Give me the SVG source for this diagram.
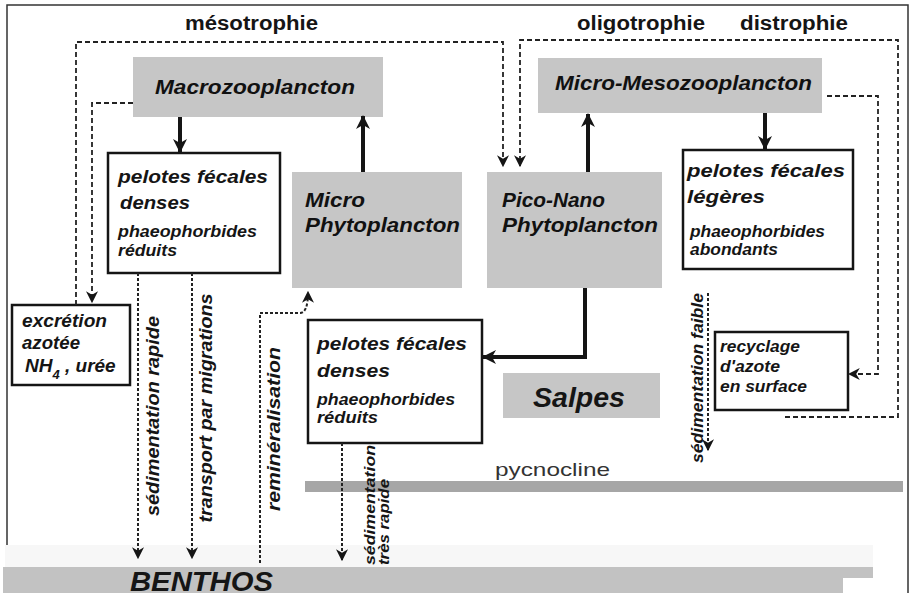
<svg xmlns="http://www.w3.org/2000/svg" width="911" height="596" viewBox="0 0 911 596">
<defs>
<style>
.frame{fill:none;stroke:#333;stroke-width:1.5}
.box{fill:#fff;stroke:#151515;stroke-width:2.5}
.gbox{fill:#c6c6c6}
.t{font-family:"Liberation Sans",Arial,sans-serif;font-weight:bold;font-style:italic;fill:#151515}
.h{font-size:20px;fill:#111}
.m{font-size:19px}
.s{font-size:16px}
.top{font-family:"Liberation Sans",Arial,sans-serif;font-weight:bold;font-size:20px;fill:#151515}
.dash{fill:none;stroke:#222;stroke-width:1.8;stroke-dasharray:5 3}
.dot{fill:none;stroke:#222;stroke-width:2;stroke-dasharray:3 2}
.solid{fill:none;stroke:#151515;stroke-width:4}
</style>
<marker id="big" viewBox="0 0 14 14" refX="13" refY="7" markerWidth="14" markerHeight="14" orient="auto" markerUnits="userSpaceOnUse">
<path d="M0,0 L14,7 L0,14 L4,7 z" fill="#151515"/>
</marker>
<marker id="sm" viewBox="0 0 10 10" refX="9" refY="5" markerWidth="12" markerHeight="12" orient="auto" markerUnits="userSpaceOnUse">
<path d="M0,0 L10,5 L0,10 L3,5 z" fill="#151515"/>
</marker>
</defs>
<rect x="0" y="0" width="911" height="596" fill="#fff"/>
<path class="frame" d="M7,593 V5 H908 V593"/>

<g id="benthos">
<rect x="5" y="545" width="868" height="22" fill="#f7f7f7"/>
<rect x="3" y="567" width="870" height="26" fill="#c2c2c2"/>
<rect x="843" y="578" width="30" height="15" fill="#fff"/>
<text class="t" x="130" y="591" font-size="28" textLength="143" lengthAdjust="spacingAndGlyphs">BENTHOS</text>
</g>

<g id="pycnocline">
<rect x="305" y="481" width="598" height="11" fill="#a6a6a6"/>
<text x="495" y="476" font-family="'Liberation Sans',Arial,sans-serif" font-size="19" fill="#333" textLength="115" lengthAdjust="spacingAndGlyphs">pycnocline</text>
</g>

<g id="labels-top">
<text class="top" x="185" y="30" textLength="133" lengthAdjust="spacingAndGlyphs">mésotrophie</text>
<text class="top" x="577" y="30" textLength="128" lengthAdjust="spacingAndGlyphs">oligotrophie</text>
<text class="top" x="740" y="30" textLength="108" lengthAdjust="spacingAndGlyphs">distrophie</text>
</g>

<g id="macrozooplancton">
<rect class="gbox" x="133" y="57" width="250" height="60"/>
<text class="t h" x="155" y="94" textLength="200" lengthAdjust="spacingAndGlyphs">Macrozooplancton</text>
</g>

<g id="micro-mesozooplancton">
<rect class="gbox" x="538" y="58" width="284" height="55"/>
<text class="t h" x="555" y="90" textLength="257" lengthAdjust="spacingAndGlyphs">Micro-Mesozooplancton</text>
</g>

<g id="micro-phytoplancton">
<rect class="gbox" x="292" y="172" width="170" height="116"/>
<text class="t h" x="305" y="207" textLength="60" lengthAdjust="spacingAndGlyphs">Micro</text>
<text class="t h" x="305" y="232" textLength="155" lengthAdjust="spacingAndGlyphs">Phytoplancton</text>
</g>

<g id="pico-nano-phytoplancton">
<rect class="gbox" x="487" y="172" width="175" height="116"/>
<text class="t h" x="502" y="207" textLength="103" lengthAdjust="spacingAndGlyphs">Pico-Nano</text>
<text class="t h" x="502" y="232" textLength="156" lengthAdjust="spacingAndGlyphs">Phytoplancton</text>
</g>

<g id="pelotes-denses-1">
<rect class="box" x="108" y="153" width="172" height="120"/>
<text class="t m" x="118" y="183" textLength="150" lengthAdjust="spacingAndGlyphs">pelotes fécales</text>
<text class="t m" x="120" y="209" textLength="70" lengthAdjust="spacingAndGlyphs">denses</text>
<text class="t s" x="118" y="237" textLength="139" lengthAdjust="spacingAndGlyphs">phaeophorbides</text>
<text class="t s" x="118" y="256" textLength="59" lengthAdjust="spacingAndGlyphs">réduits</text>
</g>

<g id="pelotes-legeres">
<rect class="box" x="683" y="150" width="170" height="119"/>
<text class="t m" x="687" y="177" textLength="158" lengthAdjust="spacingAndGlyphs">pelotes fécales</text>
<text class="t m" x="687" y="203" textLength="78" lengthAdjust="spacingAndGlyphs">légères</text>
<text class="t s" x="690" y="237" textLength="135" lengthAdjust="spacingAndGlyphs">phaeophorbides</text>
<text class="t s" x="690" y="255" textLength="88" lengthAdjust="spacingAndGlyphs">abondants</text>
</g>

<g id="excretion">
<rect class="box" x="12" y="305" width="118" height="80"/>
<text class="t m" x="22" y="327" textLength="85" lengthAdjust="spacingAndGlyphs">excrétion</text>
<text class="t m" x="22" y="349" textLength="58" lengthAdjust="spacingAndGlyphs">azotée</text>
<text class="t m" x="25" y="372">NH<tspan font-size="13" dy="7">4</tspan><tspan dy="-7"> , urée</tspan></text>
</g>

<g id="pelotes-denses-2">
<rect class="box" x="308" y="320" width="174" height="123"/>
<text class="t m" x="317" y="350" textLength="150" lengthAdjust="spacingAndGlyphs">pelotes fécales</text>
<text class="t m" x="317" y="377" textLength="73" lengthAdjust="spacingAndGlyphs">denses</text>
<text class="t s" x="317" y="405" textLength="138" lengthAdjust="spacingAndGlyphs">phaeophorbides</text>
<text class="t s" x="317" y="423" textLength="61" lengthAdjust="spacingAndGlyphs">réduits</text>
</g>

<g id="salpes">
<rect class="gbox" x="503" y="373" width="157" height="45"/>
<text class="t" x="533" y="407" font-size="27" textLength="92" lengthAdjust="spacingAndGlyphs">Salpes</text>
</g>

<g id="recyclage">
<rect class="box" x="715" y="332" width="133" height="78"/>
<text class="t s" x="720" y="352" textLength="80" lengthAdjust="spacingAndGlyphs">recyclage</text>
<text class="t s" x="720" y="372" textLength="60" lengthAdjust="spacingAndGlyphs">d'azote</text>
<text class="t s" x="720" y="392" textLength="87" lengthAdjust="spacingAndGlyphs">en surface</text>
</g>

<g id="connectors">
<path class="solid" d="M180,117 V152" marker-end="url(#big)"/>
<path class="solid" d="M363,172 V116" marker-end="url(#big)"/>
<path class="solid" d="M588,172 V114" marker-end="url(#big)"/>
<path class="solid" d="M765,113 V149" marker-end="url(#big)"/>
<path class="solid" d="M585,288 V357 H483" marker-end="url(#big)"/>
<path class="dash" d="M76,305 V42 H503 V166" marker-end="url(#sm)"/>
<path class="dash" d="M785,417 H898 V40 H520 V166" marker-end="url(#sm)"/>
<path class="dash" d="M133,103 H92 V302" marker-end="url(#sm)"/>
<path class="dash" d="M827,96 H878 V374 H849" marker-end="url(#sm)"/>
<path class="dot" d="M138,273 V558" marker-end="url(#sm)"/>
<path class="dot" d="M192,273 V558" marker-end="url(#sm)"/>
<path class="dot" d="M260,563 V313 H300 Q308,313 308,292" marker-end="url(#sm)"/>
<path class="dot" d="M342,443 V560" marker-end="url(#sm)"/>
<path class="dot" d="M708,293 V450" marker-end="url(#sm)"/>
</g>

<g id="flow-labels">
<text class="t" font-size="18" transform="translate(159,416) rotate(-90)" text-anchor="middle" textLength="200" lengthAdjust="spacingAndGlyphs">sédimentation rapide</text>
<text class="t" font-size="18" transform="translate(212,408) rotate(-90)" text-anchor="middle" textLength="229" lengthAdjust="spacingAndGlyphs">transport par migrations</text>
<text class="t" font-size="18" transform="translate(280,429) rotate(-90)" text-anchor="middle" textLength="164" lengthAdjust="spacingAndGlyphs">reminéralisation</text>
<text class="t" font-size="17" transform="translate(703,378) rotate(-90)" text-anchor="middle" textLength="170" lengthAdjust="spacingAndGlyphs">sédimentation faible</text>
<text class="t" font-size="14" transform="translate(375,505) rotate(-90)" text-anchor="middle" textLength="120" lengthAdjust="spacingAndGlyphs">sédimentation</text>
<text class="t" font-size="14" transform="translate(389,522) rotate(-90)" text-anchor="middle" textLength="86" lengthAdjust="spacingAndGlyphs">très rapide</text>
</g>
</svg>
